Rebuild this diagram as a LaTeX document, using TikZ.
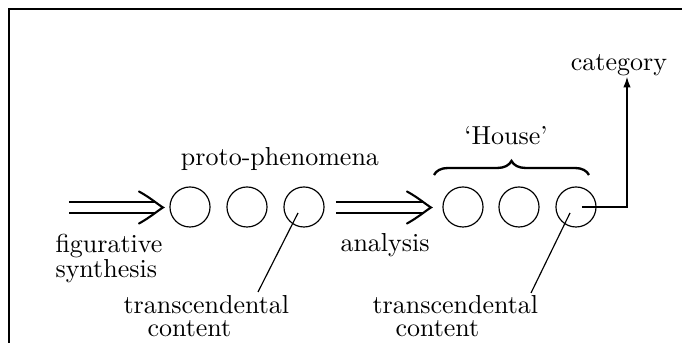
\documentclass[tikz,border=0pt]{standalone}
\usetikzlibrary{arrows.meta,decorations.pathreplacing,calc}
\begin{document}
\begin{tikzpicture}[x=0.3846pt,y=-0.3846pt,
  phen/.style={circle,draw,line width=0.45pt,minimum size=15.4pt,inner sep=0pt},
  lbl/.style={inner sep=0pt,anchor=base west,font=\fontsize{10}{12}\selectfont},
  lblc/.style={inner sep=0pt,anchor=base,font=\fontsize{10}{12}\selectfont},
  shaft/.style={double,double distance=3.4pt,line width=0.75pt,shorten >=2.5pt},
  implieshead/.style={line width=0.8pt,line cap=round},
  pointer/.style={line width=0.45pt},
  frame/.style={line width=0.8pt}]
\useasboundingbox (0,0) rectangle (682,343);
\clip (0,0) rectangle (682,343);

% outer frame
\draw[frame] (9,9) rectangle (720,380);

% proto-phenomena
\node[phen] (p1) at (190,207) {};
\node[phen] (p2) at (247,207) {};
\node[phen] (p3) at (304,207) {};
% 'House'
\node[phen] (h1) at (463,207) {};
\node[phen] (h2) at (519,207) {};
\node[phen] (h3) at (576,207) {};

% double arrows (shaft plus a drawn implication head)
\coordinate (s1) at (69,207.5);
\coordinate (t1) at (163,207.5);
\coordinate (s2) at (336,207.5);
\coordinate (t2) at (431,207.5);
\foreach \s/\t in {s1/t1,s2/t2}{
  \draw[shaft] (\s) -- (\t);
  \draw[implieshead] ($(\t)+(-24,-16)$) .. controls ($(\t)+(-13,-10)$) and ($(\t)+(-5,-3)$) .. (\t)
     .. controls ($(\t)+(-5,3)$) and ($(\t)+(-13,10)$) .. ($(\t)+(-24,16)$);
}

% labels
\node[lbl] (fig) at (55,253) {figurative};
\node[lbl] (syn) at (55,278) {synthesis};
\node[lblc] (proto) at (280,166) {proto-phenomena};
\node[lbl] (ana) at (340,252) {analysis};
\node[lblc] (house) at (506,145) {`House'};
\node[lblc] (cat) at (619,71) {category};

\node[lbl] (tc1) at (123,314) {transcendental};
\node[lbl] (ct1) at (147,337) {content};
\node[lbl] (tc2) at (372,314) {transcendental};
\node[lbl] (ct2) at (395,337) {content};

% pointers to transcendental content
\coordinate (e1) at (258,292);
\coordinate (e2) at (531,293);
\draw[pointer] ($(p3.center)+(-6,6)$) -- (e1);
\draw[pointer] ($(h3.center)+(-6,6)$) -- (e2);

% brace over 'House'
\draw[decorate,decoration={brace,amplitude=5.4pt},line width=0.9pt]
  (434,175) -- (589,175);

% link to category
\coordinate (corner) at (627,207);
\draw[pointer,-{Latex[length=4pt,width=2.8pt]}]
  ($(h3.center)+(6,0)$) -- (corner) -- (cat.south -| corner);
\end{tikzpicture}
\end{document}
